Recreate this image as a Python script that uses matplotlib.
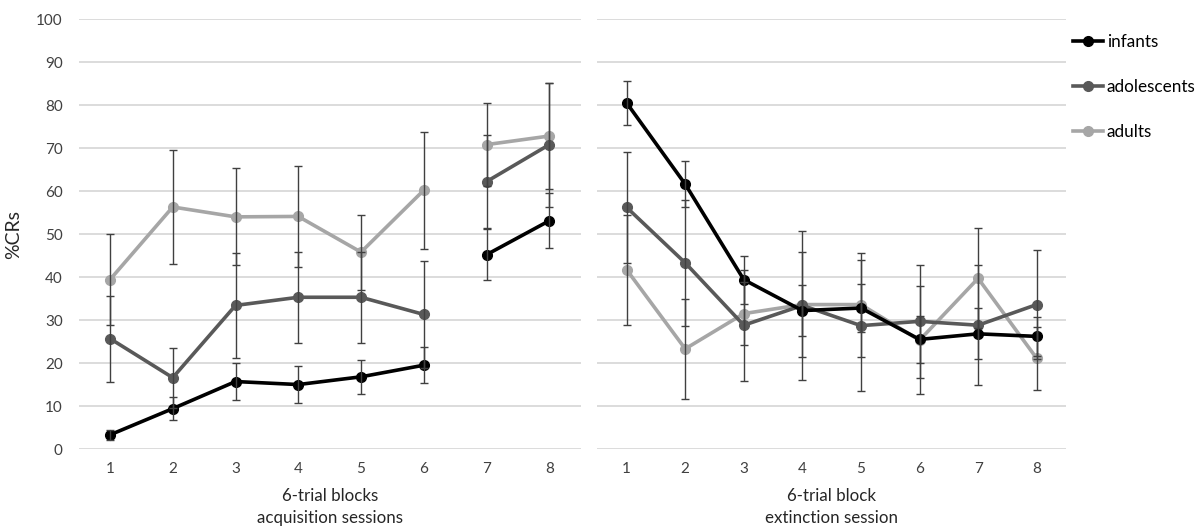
import matplotlib
matplotlib.use("Agg")
import matplotlib.pyplot as plt
from matplotlib.lines import Line2D

plt.rcParams['font.family'] = ['Lato', 'DejaVu Sans']

blocks = [1, 2, 3, 4, 5, 6, 7, 8]
groups = ["infants", "adolescents", "adults"]
colors = {"infants": "#000000", "adolescents": "#595959", "adults": "#a6a6a6"}

# acquisition sessions (blocks 1-6 session 1, blocks 7-8 session 2)
acq_infants = [3.4, 9.5, 15.8, 15.1, 16.9, 19.6, 45.3, 53.2]
acq_infants_err = [1.2, 2.7, 4.2, 4.4, 4.0, 4.2, 6.0, 6.4]
acq_adolescents = [25.8, 16.7, 33.5, 35.4, 35.4, 31.4, 62.3, 70.9]
acq_adolescents_err = [10.0, 7.0, 12.3, 10.6, 10.6, 12.4, 10.9, 14.4]
acq_adults = [39.5, 56.4, 54.1, 54.2, 45.9, 60.3, 70.9, 72.9]
acq_adults_err = [10.5, 13.2, 11.3, 11.8, 8.7, 13.6, 9.7, 12.3]

# extinction session
ext_infants = [80.6, 61.7, 39.5, 32.3, 32.9, 25.6, 26.9, 26.3]
ext_infants_err = [5.2, 5.4, 5.6, 6.0, 5.5, 5.5, 5.9, 4.6]
ext_adolescents = [56.3, 43.4, 28.9, 33.5, 28.8, 29.8, 28.9, 33.7]
ext_adolescents_err = [12.9, 14.7, 12.9, 17.4, 15.2, 13.2, 13.9, 12.6]
ext_adults = [41.8, 23.4, 31.6, 33.7, 33.7, 25.4, 39.8, 21.2]
ext_adults_err = [12.8, 11.7, 7.4, 12.2, 12.1, 12.6, 11.6, 7.4]

acq = {"infants": (acq_infants, acq_infants_err),
       "adolescents": (acq_adolescents, acq_adolescents_err),
       "adults": (acq_adults, acq_adults_err)}
ext = {"infants": (ext_infants, ext_infants_err),
       "adolescents": (ext_adolescents, ext_adolescents_err),
       "adults": (ext_adults, ext_adults_err)}

yticks = [0, 10, 20, 30, 40, 50, 60, 70, 80, 90, 100]
session_split = 6

fig = plt.figure(figsize=(12, 5.27), dpi=100)
axL = fig.add_axes([0.0655, 0.1471, 0.4184, 0.8159])
axR = fig.add_axes([0.4978, 0.1471, 0.3905, 0.8159])

err_color = "#404040"
lw = 2.6
ms = 7
tick_fs = 11
text_color = "#262626"
order = ["adults", "adolescents", "infants"]


def style(ax, show_y):
    ax.set_xlim(0.5, 8.5)
    ax.set_ylim(0, 100)
    ax.set_yticks(yticks)
    ax.set_xticks(blocks)
    ax.set_xticklabels([str(b) for b in blocks], fontsize=tick_fs, color="#404040")
    if show_y:
        ax.set_yticklabels([str(t) for t in yticks], fontsize=tick_fs, color="#404040")
    else:
        ax.set_yticklabels([])
    ax.tick_params(axis='x', length=0, pad=9)
    ax.tick_params(axis='y', length=0, pad=11.5)
    for s in ax.spines.values():
        s.set_visible(False)
    ax.grid(axis='y', color="#d9d9d9", linewidth=1.3, zorder=0)
    ax.set_axisbelow(True)


for ax, data, split in [(axL, acq, True), (axR, ext, False)]:
    for g in order:
        vals, errs = data[g]
        segs = [(0, session_split), (session_split, 8)] if split else [(0, 8)]
        for a, b in segs:
            ax.plot(blocks[a:b], vals[a:b], color=colors[g], lw=lw, marker='o',
                    ms=ms, zorder=3, clip_on=False, solid_capstyle='round')
    for g in order:
        vals, errs = data[g]
        ax.errorbar(blocks, vals, yerr=errs, fmt='none', ecolor=err_color,
                    elinewidth=1.0, capsize=3, capthick=1.0, zorder=4)

style(axL, True)
style(axR, False)

axL.set_ylabel("%CRs", fontsize=14, color=text_color)
axL.yaxis.set_label_coords(-0.113, 0.5)
axL.set_xlabel("6-trial blocks\nacquisition sessions", fontsize=12.2, color=text_color,
               linespacing=1.4, labelpad=9)
axR.set_xlabel("6-trial block\nextinction session", fontsize=12.2, color=text_color,
               linespacing=1.4, labelpad=9)

handles = [Line2D([0], [0], color=colors[g], lw=lw, marker='o', ms=ms) for g in groups]
fig.legend(handles, groups, loc='upper left', bbox_to_anchor=(0.8945, 0.935),
           frameon=False, fontsize=12.3, handlelength=1.75, handletextpad=0.2,
           labelspacing=1.7, borderaxespad=0, borderpad=0)

fig.savefig("out.png", dpi=100)
